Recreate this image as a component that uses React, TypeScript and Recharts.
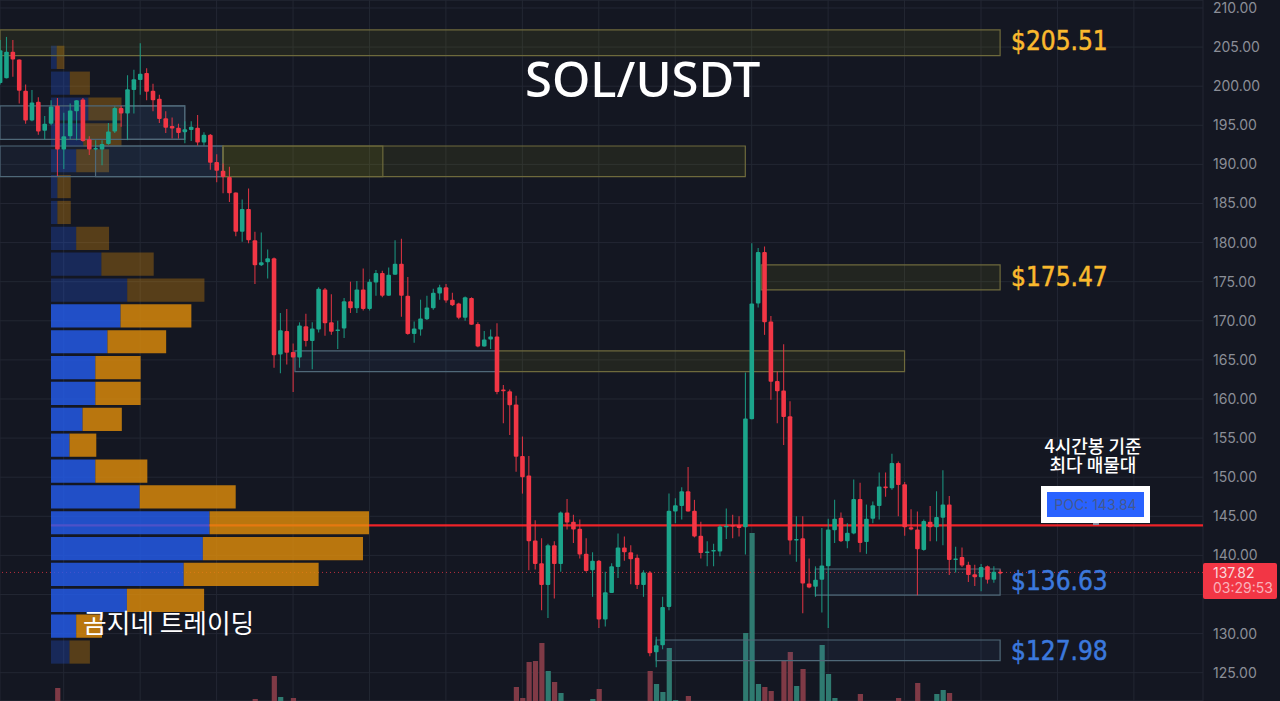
import React from 'react';
import {
  Bar,
  BarChart,
  CartesianGrid,
  Cell,
  ComposedChart,
  ReferenceArea,
  ReferenceLine,
  XAxis,
  YAxis,
} from 'recharts';

const opens = [
  200.4, 201.0, 204.4, 203.4, 199.4, 195.6, 198.0, 194.3, 195.2, 197.5,
  191.9, 193.6, 196.8, 198.3, 193.2, 191.9, 191.9, 192.6, 194.2, 197.2,
  196.5, 199.5, 200.8, 201.7, 199.4, 198.4, 195.9, 194.9, 194.7, 194.1,
  194.4, 194.7, 192.8, 193.8, 190.3, 189.2, 188.4, 186.4, 181.4, 184.3,
  180.3, 177.1, 177.5, 178.0, 165.7, 168.7, 166.0, 165.3, 169.3, 167.4,
  168.9, 174.0, 169.8, 168.7, 169.0, 172.5, 171.6, 174.0, 171.5, 174.9,
  176.1, 173.2, 175.9, 177.3, 173.2, 168.3, 168.9, 170.2, 171.6, 173.5,
  174.3, 172.7, 172.2, 170.4, 172.9, 169.6, 166.7, 167.6, 168.0, 161.2,
  161.0, 159.3, 152.7, 150.2, 141.9, 139.0, 136.2, 141.3, 138.9, 145.5,
  144.3, 143.4, 140.2, 138.1, 139.3, 131.8, 135.2, 138.5, 141.0, 140.4,
  139.7, 136.2, 137.8, 127.6, 128.5, 133.4, 145.6, 146.3, 148.2, 145.7,
  142.5, 140.4, 140.5, 140.5, 143.7, 143.9, 143.9, 143.6, 157.4, 172.2,
  178.8, 169.9, 162.3, 161.1, 157.8, 141.9, 142.2, 136.4, 136.0, 136.9,
  138.6, 143.2, 144.8, 141.8, 142.8, 147.2, 141.7, 144.7, 146.3, 148.8,
  148.6, 151.8, 149.1, 143.6, 143.3, 140.7, 144.3, 143.6, 144.8, 146.5,
  139.4, 139.8, 138.8, 137.6, 137.2, 138.6, 136.9, 137.9,
];
const highs = [
  205.9, 206.3, 205.9, 203.4, 200.2, 199.5, 198.6, 196.2, 198.2, 198.5,
  196.6, 197.8, 198.2, 198.5, 193.6, 193.1, 193.1, 195.3, 197.4, 197.5,
  201.4, 202.1, 205.5, 202.3, 200.3, 198.9, 196.8, 196.0, 195.2, 195.5,
  195.5, 196.3, 194.1, 193.9, 191.3, 190.1, 189.7, 186.4, 185.5, 186.9,
  181.4, 181.3, 179.1, 178.1, 171.0, 171.5, 167.1, 169.8, 170.9, 169.8,
  174.3, 174.2, 173.4, 170.0, 172.9, 175.0, 175.1, 176.7, 175.3, 176.5,
  176.4, 176.8, 180.3, 180.5, 175.6, 169.9, 172.7, 173.2, 174.1, 174.6,
  174.7, 173.6, 172.3, 173.1, 173.0, 169.8, 168.7, 168.9, 169.7, 161.8,
  161.2, 160.4, 155.2, 152.7, 144.5, 142.2, 141.5, 141.8, 145.6, 147.2,
  145.2, 144.6, 142.2, 140.4, 139.4, 137.9, 139.0, 142.8, 142.4, 141.3,
  140.1, 138.1, 138.0, 129.6, 134.7, 147.9, 147.3, 148.7, 151.3, 147.1,
  144.3, 141.8, 141.5, 143.9, 146.0, 145.2, 145.0, 163.4, 179.9, 179.3,
  179.5, 170.6, 163.5, 167.0, 159.7, 145.0, 145.0, 139.6, 138.6, 143.5,
  144.7, 147.1, 145.5, 144.1, 149.7, 149.3, 146.5, 146.9, 150.6, 150.6,
  153.0, 152.0, 149.4, 145.9, 145.6, 144.6, 146.3, 148.2, 150.9, 147.6,
  141.1, 141.0, 139.2, 138.8, 138.9, 138.7, 138.6, 138.2,
];
const lows = [
  200.2, 201.0, 201.2, 197.8, 195.2, 195.5, 193.8, 193.2, 195.0, 188.5,
  189.4, 193.2, 193.1, 192.9, 191.2, 191.8, 189.9, 192.5, 194.0, 194.8,
  193.1, 196.5, 198.9, 198.2, 196.8, 195.3, 194.0, 193.3, 193.3, 192.7,
  193.0, 192.4, 192.4, 189.3, 187.7, 186.3, 185.2, 180.8, 180.1, 179.9,
  174.7, 177.0, 175.4, 164.0, 163.3, 164.4, 160.9, 164.0, 166.7, 163.8,
  168.5, 168.1, 168.2, 166.4, 167.8, 171.0, 171.0, 171.3, 171.3, 173.2,
  173.0, 173.2, 175.9, 170.5, 168.2, 167.2, 168.1, 170.1, 171.4, 172.7,
  172.3, 171.9, 170.2, 170.0, 169.5, 166.6, 166.7, 166.4, 160.6, 156.9,
  155.4, 150.7, 147.9, 138.1, 138.2, 133.0, 132.0, 134.5, 137.9, 143.3,
  141.6, 139.6, 137.9, 134.7, 130.7, 130.9, 135.2, 137.1, 139.3, 136.3,
  135.7, 134.7, 127.1, 125.7, 128.0, 133.0, 144.1, 144.6, 145.6, 142.3,
  139.6, 138.6, 138.6, 139.9, 142.1, 142.2, 142.4, 140.1, 157.4, 171.7,
  168.2, 159.9, 156.9, 154.1, 140.1, 139.2, 132.6, 135.8, 134.7, 132.7,
  130.7, 141.6, 141.7, 140.9, 142.7, 140.4, 140.2, 144.1, 144.6, 147.5,
  148.4, 145.0, 142.5, 143.2, 134.9, 140.6, 141.8, 141.8, 141.3, 137.5,
  137.8, 138.5, 136.6, 136.1, 135.4, 136.4, 136.5, 137.6,
];
const closes = [
  204.6, 204.4, 203.4, 199.4, 195.6, 197.9, 194.2, 195.2, 197.4, 191.9,
  193.6, 196.9, 198.2, 193.0, 191.9, 192.1, 192.6, 194.2, 197.2, 196.5,
  199.6, 200.9, 201.6, 199.3, 198.2, 195.8, 194.7, 194.6, 194.0, 194.5,
  194.8, 192.8, 193.8, 190.2, 189.2, 188.4, 186.3, 181.4, 184.3, 180.3,
  177.1, 177.5, 178.0, 165.6, 168.8, 165.9, 165.3, 169.4, 167.4, 169.0,
  174.1, 169.7, 168.6, 168.9, 172.5, 171.6, 174.0, 171.5, 175.0, 176.1,
  173.2, 175.9, 177.3, 173.2, 168.3, 169.0, 170.3, 171.7, 173.6, 174.3,
  172.6, 172.0, 170.4, 173.0, 169.5, 166.7, 167.6, 168.0, 160.9, 161.1,
  159.2, 152.6, 150.0, 141.8, 138.9, 136.2, 141.3, 138.9, 145.5, 144.2,
  143.3, 140.1, 138.0, 139.3, 131.8, 135.3, 138.6, 141.0, 140.4, 139.5,
  136.2, 137.8, 127.5, 128.5, 133.4, 145.7, 146.4, 148.2, 145.6, 142.4,
  140.3, 140.5, 140.7, 143.7, 143.8, 143.8, 143.5, 157.5, 172.2, 178.8,
  169.8, 162.2, 161.0, 157.7, 141.9, 142.1, 136.4, 135.9, 136.9, 138.7,
  143.3, 144.7, 141.8, 142.9, 147.2, 141.6, 144.7, 146.4, 148.8, 148.7,
  151.8, 149.0, 143.6, 143.3, 140.8, 144.4, 143.6, 144.9, 146.5, 139.4,
  139.6, 138.7, 137.5, 137.2, 138.5, 136.9, 137.9, 137.82,
];

// only the bars tall enough to see: [candle index, volume]
const volumeBars = [
  [9, 13], [40, 2], [43, 25], [44, 4], [46, 3],
  [81, 14], [82, 3], [83, 39], [84, 40], [85, 58], [86, 30], [87, 19], [88, 8],
  [93, 2], [94, 12], [102, 30], [103, 17], [104, 9], [105, 53], [106, 1], [108, 5],
  [117, 68], [118, 168], [119, 17], [120, 14], [121, 10], [123, 41], [124, 49],
  [125, 15], [126, 32], [129, 56], [130, 27], [131, 3], [135, 7], [141, 3],
  [144, 18], [147, 7], [148, 11], [149, 8],
];

const profilePrices = [
  203.5, 200.2, 196.9, 193.6, 190.3, 187.0, 183.7, 180.4, 177.1, 173.7, 170.4, 167.1,
  163.8, 160.5, 157.2, 153.9, 150.6, 147.3, 144.0, 140.7, 137.4, 134.1, 130.7, 127.4,
];
const profileUp = [
  1.8, 5.9, 11.7, 10.1, 7.9, 2.0, 2.0, 7.9, 15.8, 23.9, 21.8, 17.7,
  13.9, 13.9, 9.9, 5.8, 13.9, 27.8, 49.7, 47.6, 41.6, 23.8, 7.9, 5.8,
];
const profileDown = [
  2.4, 6.3, 10.4, 12.0, 10.3, 4.2, 4.2, 10.3, 16.4, 24.2, 22.2, 18.4,
  14.2, 14.2, 12.3, 8.4, 16.3, 30.1, 50.0, 50.2, 42.3, 24.2, 8.1, 6.4,
];
const valueAreaHigh = 170.4;
const valueAreaLow = 130.7;

const priceTicks = [
  125, 130, 135, 140, 145, 150, 155, 160, 165, 170, 175, 180, 185, 190, 195, 200, 205, 210,
];
const timeTicks = [10, 22, 34, 46, 58, 70, 82, 94, 106, 118, 130, 142, 154, 166, 178];

const yellowZones = [
  { from: 0, to: 157, top: 207.19, bottom: 203.9 },
  { from: 35, to: 117, top: 192.35, bottom: 188.43 },
  { from: 35, to: 60.1, top: 192.35, bottom: 188.43 },
  { from: 119.5, to: 157, top: 177.14, bottom: 173.94 },
  { from: 78, to: 142, top: 166.14, bottom: 163.49 },
];
const blueZones = [
  { from: 0, to: 29, top: 197.47, bottom: 193.21 },
  { from: 20, to: 29, top: 197.47, bottom: 193.21 },
  { from: 0, to: 35, top: 192.35, bottom: 188.43 },
  { from: 15, to: 35, top: 192.35, bottom: 188.43 },
  { from: 46.3, to: 78, top: 166.14, bottom: 163.49 },
  { from: 128, to: 157, top: 138.26, bottom: 134.93 },
  { from: 103, to: 157, top: 129.18, bottom: 126.54 },
];

const POC_PRICE = 143.84;
const LAST_PRICE = 137.82;

const candleData = opens.map((open, i) => ({
  i,
  open,
  high: highs[i],
  low: lows[i],
  close: closes[i],
  range: [lows[i], highs[i]],
}));
const volumeData = volumeBars.map(([i, volume]) => ({ i, volume, up: closes[i] >= opens[i] }));
const profileData = profilePrices.map((price, k) => ({
  price,
  up: profileUp[k],
  down: profileDown[k],
  inValueArea: price <= valueAreaHigh && price >= valueAreaLow,
}));

const W = 1280;
const H = 701;
const AXIS_W = 77;
const BG = '#141722';
const GRID = '#232733';
const UP = '#1ba58b';
const DOWN = '#f23645';
const X_DOMAIN: [number, number] = [0, 188.85];
const Y_DOMAIN: [number, number] = [121.38, 211.02];

const layer: React.CSSProperties = { position: 'absolute', left: 0, top: 0 };

const Candle = (props: any) => {
  const { x, y, width, height, payload } = props;
  const { open, close, high, low } = payload;
  const perUnit = height / (high - low || 1);
  const bodyTop = y + (high - Math.max(open, close)) * perUnit;
  const bodyH = Math.max(Math.abs(open - close) * perUnit, 1.6);
  const color = close >= open ? UP : DOWN;
  const cx = x + width / 2;
  return (
    <g>
      <line x1={cx} x2={cx} y1={y} y2={y + height} stroke={color} strokeWidth={1.1} strokeOpacity={0.85} />
      <rect x={x} y={bodyTop} width={width} height={bodyH} rx={1} fill={color} />
    </g>
  );
};

const zoneArea = (z: any, key: string, stroke: string, fill: string) => (
  <ReferenceArea
    key={key}
    x1={z.from}
    x2={z.to}
    y1={z.bottom}
    y2={z.top}
    stroke={stroke}
    strokeWidth={1.2}
    fill={fill}
    fillOpacity={1}
    ifOverflow="visible"
  />
);

const priceLabel = (text: string, top: number, color: string) => (
  <div
    style={{
      position: 'absolute',
      left: 1011,
      top,
      fontFamily: '"DejaVu Sans Condensed", "DejaVu Sans"',
      fontStretch: 'condensed',
      fontSize: 26,
      lineHeight: '30px',
      color,
      WebkitTextStroke: `0.5px ${color}`,
      whiteSpace: 'nowrap',
    }}
  >
    {text}
  </div>
);

export default function App() {
  return (
    <div style={{ position: 'fixed', left: 0, top: 0, width: W, height: H, overflow: 'hidden', background: BG }}>
      {/* grid, axis, volume and the two price lines */}
      <ComposedChart
        style={layer}
        width={W}
        height={H}
        data={volumeData}
        margin={{ top: 0, right: 0, bottom: 0, left: 0 }}
      >
        <CartesianGrid stroke={GRID} strokeWidth={1} />
        <XAxis dataKey="i" type="number" domain={X_DOMAIN} ticks={timeTicks} hide allowDataOverflow />
        <YAxis
          yAxisId="price"
          orientation="right"
          width={AXIS_W}
          domain={Y_DOMAIN}
          ticks={priceTicks}
          interval={0}
          allowDataOverflow
          tickLine={false}
          axisLine={false}
          tickSize={0}
          tickMargin={10}
          tickFormatter={(v: number) => v.toFixed(2)}
          tick={{ fill: '#8b8e97', fontSize: 14, fontFamily: 'Inter' }}
        />
        <YAxis yAxisId="volume" hide domain={[0, H]} />
        <CartesianGrid yAxisId="price" stroke={GRID} vertical={false} />
        <Bar yAxisId="volume" dataKey="volume" barSize={5.2} isAnimationActive={false}>
          {volumeData.map((d) => (
            <Cell key={d.i} fill={d.up ? '#2f7a70' : '#7f3a46'} />
          ))}
        </Bar>
        <ReferenceLine
          yAxisId="price"
          y={LAST_PRICE}
          stroke={DOWN}
          strokeOpacity={0.75}
          strokeWidth={1}
          strokeDasharray="1 3"
        />
        <ReferenceLine
          yAxisId="price"
          segment={[
            { x: 8, y: POC_PRICE },
            { x: 188.85, y: POC_PRICE },
          ]}
          stroke="#ee2328"
          strokeWidth={2.4}
        />
      </ComposedChart>

      {/* volume profile, sits over the red line but under the candles */}
      <BarChart
        style={layer}
        width={W}
        height={H}
        layout="vertical"
        data={profileData}
        margin={{ top: 44.7, right: 910, bottom: 35.7, left: 51 }}
      >
        <XAxis type="number" domain={[0, 100]} hide allowDataOverflow />
        <YAxis type="category" dataKey="price" hide />
        <Bar dataKey="up" stackId="p" barSize={23.2} isAnimationActive={false}>
          {profileData.map((d) => (
            <Cell key={d.price} fill="#245ef1" fillOpacity={d.inValueArea ? 0.8 : 0.27} />
          ))}
        </Bar>
        <Bar dataKey="down" stackId="p" barSize={23.2} isAnimationActive={false}>
          {profileData.map((d) => (
            <Cell key={d.price} fill="#e28e0a" fillOpacity={d.inValueArea ? 0.8 : 0.33} />
          ))}
        </Bar>
      </BarChart>

      {/* zones and candles */}
      <ComposedChart
        style={layer}
        width={W}
        height={H}
        data={candleData}
        margin={{ top: 0, right: AXIS_W, bottom: 0, left: 0 }}
      >
        <XAxis dataKey="i" type="number" domain={X_DOMAIN} hide allowDataOverflow />
        <YAxis domain={Y_DOMAIN} hide allowDataOverflow />
        {blueZones.map((z, k) => zoneArea(z, `b${k}`, '#4f6878', 'rgba(66,110,170,0.09)'))}
        {yellowZones.map((z, k) => zoneArea(z, `y${k}`, '#6e6a3c', 'rgba(170,165,20,0.1)'))}
        <Bar dataKey="range" barSize={4.6} isAnimationActive={false} shape={<Candle />} />
      </ComposedChart>

      {/* annotations on top */}
      <div
        style={{
          position: 'absolute',
          left: 525,
          top: 44,
          fontFamily: '"Noto Sans"',
          fontWeight: 500,
          fontSize: 49,
          lineHeight: '68px',
          color: '#fff',
          whiteSpace: 'nowrap',
        }}
      >
        SOL/USDT
      </div>
      <div
        style={{
          position: 'absolute',
          left: 83,
          top: 605,
          fontFamily: '"Noto Sans CJK KR"',
          fontSize: 25.7,
          lineHeight: '34px',
          color: '#fff',
          whiteSpace: 'nowrap',
        }}
      >
        곰지네 트레이딩
      </div>

      {priceLabel('$205.51', 26, '#fab92e')}
      {priceLabel('$175.47', 262, '#fab92e')}
      {priceLabel('$136.63', 566, '#3b78dc')}
      {priceLabel('$127.98', 636, '#3b78dc')}

      <div
        style={{
          position: 'absolute',
          left: 1023,
          top: 436,
          width: 140,
          textAlign: 'center',
          fontFamily: '"Noto Sans CJK KR"',
          fontWeight: 500,
          fontSize: 18,
          lineHeight: '19px',
          color: '#fff',
        }}
      >
        4시간봉 기준
        <br />
        최다 매물대
      </div>

      <div
        style={{
          position: 'absolute',
          left: 1041,
          top: 486,
          width: 109,
          height: 37,
          background: '#fff',
        }}
      >
        <div
          style={{
            position: 'absolute',
            left: 6,
            top: 6,
            width: 97,
            height: 25,
            background: '#2962ff',
            color: '#44598f',
            fontFamily: 'Inter',
            fontSize: 14,
            lineHeight: '25px',
            textAlign: 'center',
          }}
        >
          POC: 143.84
        </div>
      </div>
      <div style={{ position: 'absolute', left: 1093, top: 523, width: 6, height: 2, background: '#8a8ea0' }} />

      <div
        style={{
          position: 'absolute',
          left: 1203,
          top: 563,
          width: 64,
          height: 34,
          background: DOWN,
          borderRadius: 2,
          fontFamily: 'Inter',
          fontSize: 14,
          lineHeight: '15px',
          padding: '2px 0 0 10px',
          boxSizing: 'content-box',
          color: '#f9d5da',
        }}
      >
        137.82
        <br />
        <span style={{ color: '#f9b0b9' }}>03:29:53</span>
      </div>
    </div>
  );
}
